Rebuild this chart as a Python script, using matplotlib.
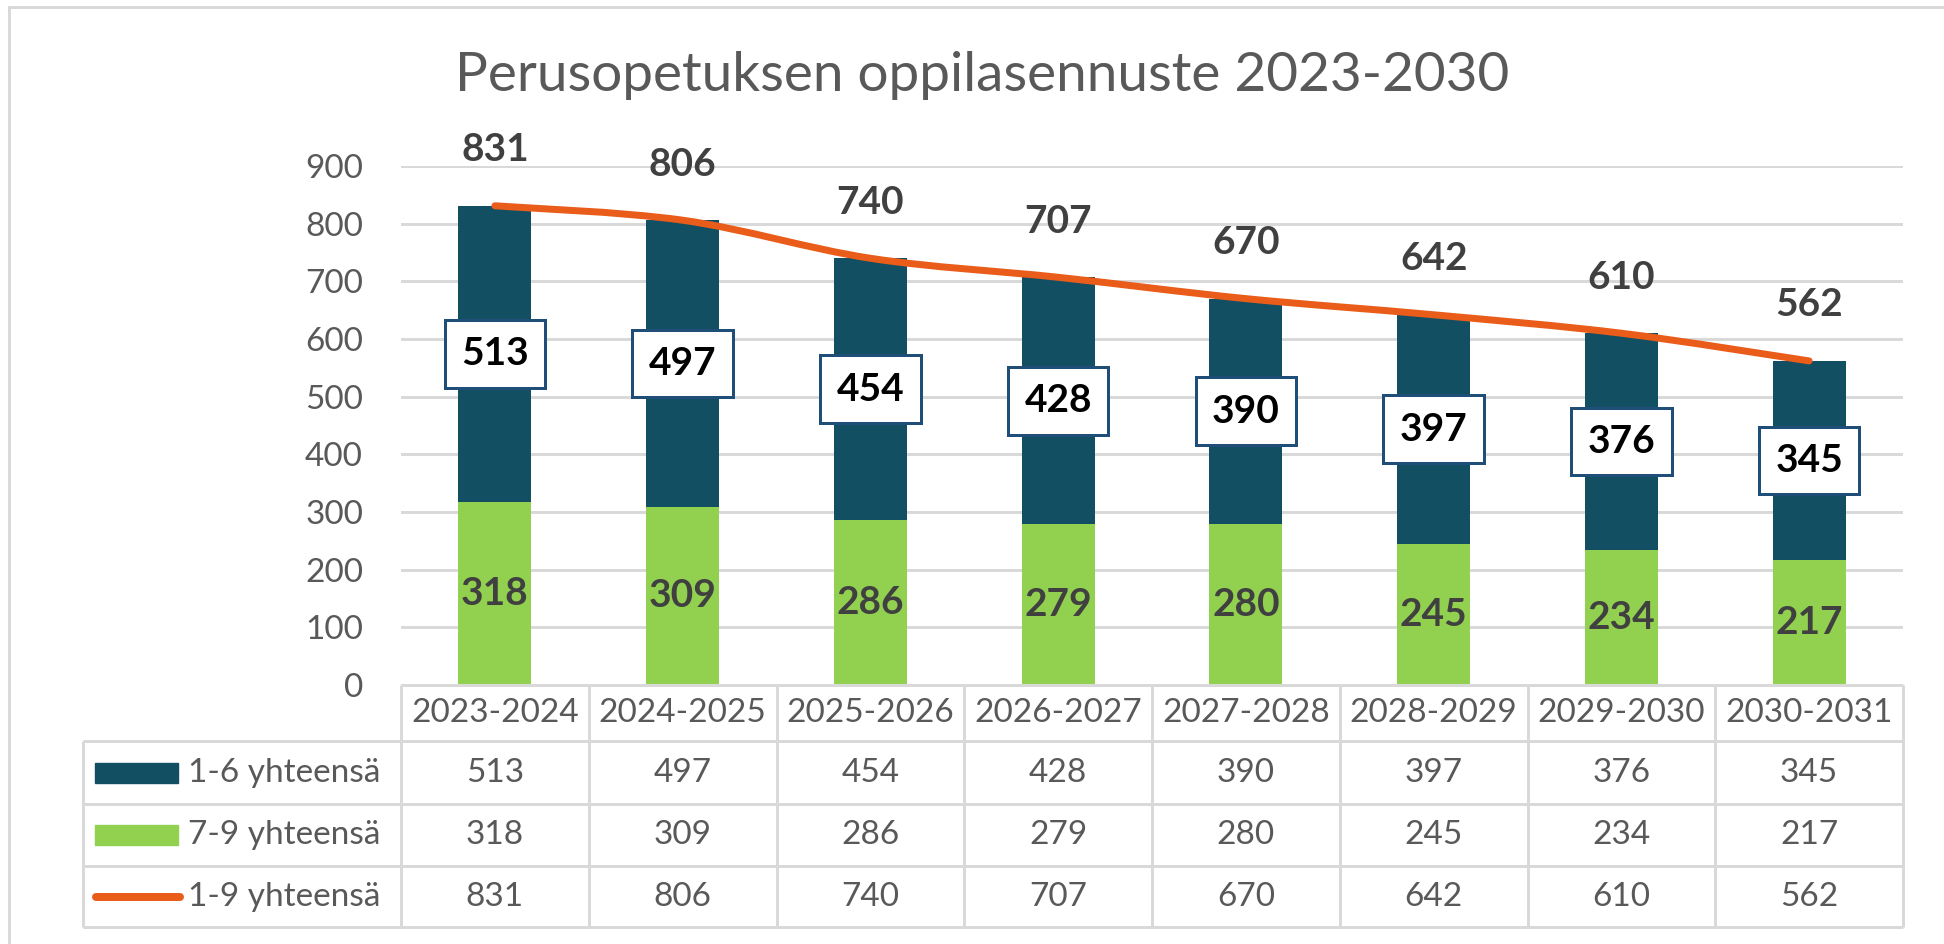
import matplotlib
matplotlib.use("Agg")
import matplotlib.pyplot as plt
import matplotlib.transforms as mtransforms
from matplotlib.path import Path
from matplotlib.patches import PathPatch, Rectangle
from matplotlib.lines import Line2D
import numpy as np

# ---------------- data ----------------
categories = ["2023-2024", "2024-2025", "2025-2026", "2026-2027",
              "2027-2028", "2028-2029", "2029-2030", "2030-2031"]
grade_1_6 = [513, 497, 454, 428, 390, 397, 376, 345]
grade_7_9 = [318, 309, 286, 279, 280, 245, 234, 217]
grade_1_9 = [831, 806, 740, 707, 670, 642, 610, 562]
series_names = ["1-6 yhteensä", "7-9 yhteensä", "1-9 yhteensä"]
title_text = "Perusopetuksen oppilasennuste 2023-2030"
y_ticks = [0, 100, 200, 300, 400, 500, 600, 700, 800, 900]

# ---------------- style ----------------
TEAL = "#124F62"
GREEN = "#92D050"
ORANGE = "#E95C1A"
BOXEDGE = "#1F4E79"
GRID = "#D9D9D9"
GRAYTXT = "#595959"
DARKTXT = "#404040"

plt.rcParams['font.family'] = ['Lato', 'DejaVu Sans']

W, H = 1944, 944
fig = plt.figure(figsize=(W / 100, H / 100), dpi=100)
fig.patch.set_facecolor("white")


def fx(px):
    return px / W


def fy(py):
    return 1 - py / H


PX = 0.72  # points per pixel at dpi 100

# plot area
ax_left, ax_right, ax_top, ax_bottom = 401, 1903, 166, 685
ax = fig.add_axes([fx(ax_left), fy(ax_bottom), (ax_right - ax_left) / W,
                   (ax_bottom - ax_top) / H])
x = np.arange(len(categories))
bw = 0.39
ax.bar(x, grade_7_9, width=bw, color=GREEN, zorder=2)
ax.bar(x, grade_1_6, bottom=grade_7_9, width=bw, color=TEAL, zorder=2)
ax.set_xlim(-0.5, len(categories) - 0.5)
ax.set_ylim(0, 900)
ax.set_yticks(y_ticks)
ax.yaxis.grid(True, color=GRID, lw=3 * PX)
ax.set_axisbelow(True)
for s in ax.spines.values():
    s.set_visible(False)
ax.tick_params(axis='y', length=0, pad=38 * PX, labelsize=24, labelcolor=GRAYTXT)
ax.tick_params(axis='x', length=0, labelbottom=False)

# smoothed total line (Catmull-Rom style bezier through the data points)
pts = np.column_stack([x, grade_1_9]).astype(float)
verts = [tuple(pts[0])]
codes = [Path.MOVETO]
n = len(pts)
for i in range(n - 1):
    p0 = pts[i - 1] if i > 0 else pts[i]
    p1 = pts[i]
    p2 = pts[i + 1]
    p3 = pts[i + 2] if i + 2 < n else pts[i + 1]
    c1 = p1 + (p2 - p0) / 6.0
    c2 = p2 - (p3 - p1) / 6.0
    verts += [tuple(c1), tuple(c2), tuple(p2)]
    codes += [Path.CURVE4, Path.CURVE4, Path.CURVE4]
line_patch = PathPatch(Path(verts, codes), fill=False, edgecolor=ORANGE,
                       lw=7 * PX, capstyle='round', joinstyle='round', zorder=4)
ax.add_patch(line_patch)

# labels
for i in range(len(categories)):
    ax.annotate(str(grade_1_9[i]), (x[i], grade_1_9[i]), xytext=(0, 56 * PX),
                textcoords='offset points', ha='center', va='center',
                fontsize=28, fontweight='bold', color=DARKTXT,
                annotation_clip=False, zorder=6)
    ax.text(x[i], grade_7_9[i] + grade_1_6[i] / 2, str(grade_1_6[i]),
            ha='center', va='center', fontsize=28, fontweight='bold', color='black',
            bbox=dict(boxstyle='square,pad=0.42', fc='white', ec=BOXEDGE, lw=3 * PX),
            zorder=6)
    ax.text(x[i], grade_7_9[i] / 2, str(grade_7_9[i]), ha='center', va='center',
            fontsize=28, fontweight='bold', color=DARKTXT, zorder=6)

# ---------------- data table ----------------
bt = mtransforms.blended_transform_factory(ax.transData, fig.transFigure)
row_lines = [685, 741, 804, 866, 927]
tbl_left = 83
lw_t = 3 * PX


def fline(xs, ys, transform=fig.transFigure, **kw):
    fig.add_artist(Line2D(xs, ys, transform=transform, color=GRID, lw=lw_t,
                          solid_capstyle='butt', **kw))


# header top (category columns only)
fline([-0.5, len(categories) - 0.5], [fy(685), fy(685)], transform=bt)
# horizontal rows spanning legend column + categories
for ry in row_lines[1:]:
    fline([fx(tbl_left), fx(ax_right)], [fy(ry), fy(ry)])
# verticals
for i in range(len(categories) + 1):
    fline([i - 0.5, i - 0.5], [fy(685), fy(927)], transform=bt)
fline([fx(tbl_left), fx(tbl_left)], [fy(741), fy(927)])

# header texts
for i, c in enumerate(categories):
    fig.text(i, fy(713), c, transform=bt, ha='center', va='center',
             fontsize=24, color=GRAYTXT)

rows = [grade_1_6, grade_7_9, grade_1_9]
row_centers = [(row_lines[k + 1] + row_lines[k + 2]) / 2 for k in range(3)]
for r, (vals, cy) in enumerate(zip(rows, row_centers)):
    for i, v in enumerate(vals):
        fig.text(i, fy(cy), str(v), transform=bt, ha='center', va='center',
                 fontsize=24, color=GRAYTXT)
    fig.text(fx(188), fy(cy), series_names[r], ha='left', va='center',
             fontsize=24, color=GRAYTXT)

# legend keys
fig.add_artist(Rectangle((fx(95), fy(row_centers[0] + 10)), 83 / W, 20 / H,
                         transform=fig.transFigure, color=TEAL))
fig.add_artist(Rectangle((fx(95), fy(row_centers[1] + 10)), 83 / W, 20 / H,
                         transform=fig.transFigure, color=GREEN))
fig.add_artist(Line2D([fx(96), fx(180)], [fy(row_centers[2]), fy(row_centers[2])],
                      transform=fig.transFigure, color=ORANGE, lw=8 * PX,
                      solid_capstyle='round'))

# title
fig.text(fx(982), fy(76), title_text, ha='center', va='center', fontsize=39.5,
         color=GRAYTXT)

# outer border (top + left visible)
fig.add_artist(Line2D([fx(9), 1.0], [fy(7), fy(7)], transform=fig.transFigure,
                      color=GRID, lw=3 * PX))
fig.add_artist(Line2D([fx(9), fx(9)], [fy(7), 0.0], transform=fig.transFigure,
                      color=GRID, lw=3 * PX))

fig.savefig("out.png", dpi=100, facecolor="white")
